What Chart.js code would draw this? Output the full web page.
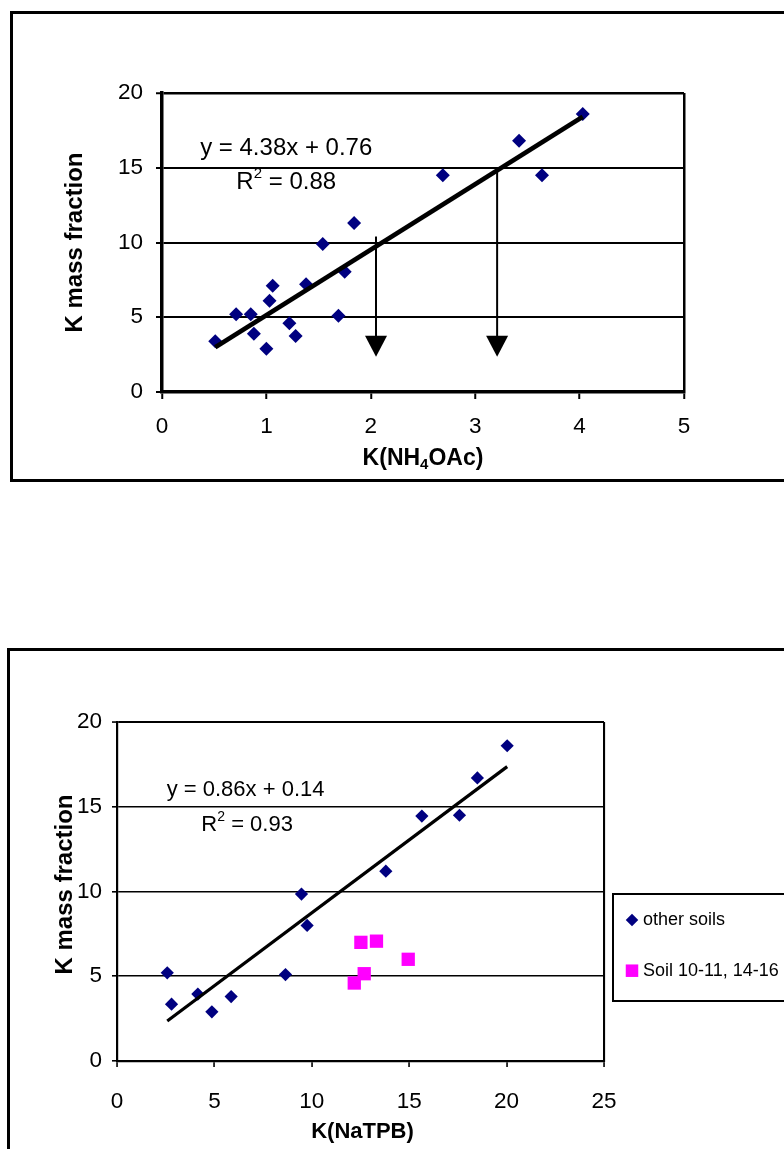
<!DOCTYPE html>
<html>
<head>
<meta charset="utf-8">
<title>K mass fraction</title>
<script src="https://cdn.jsdelivr.net/npm/chart.js@4.4.1/dist/chart.umd.min.js"></script>
<style>
  html, body { margin: 0; padding: 0; background: #fff; overflow: hidden; }
  body { width: 784px; height: 1149px; position: relative; }
  .frame { position: absolute; border: 3px solid #000; box-sizing: border-box; }
  #frameTop { left: 10px; top: 11px; width: 900px; height: 471px; }
  #frameBottom { left: 7px; top: 648px; width: 900px; height: 600px; }
  #legendBox { left: 612px; top: 893px; width: 300px; height: 109px; border-width: 2.5px; }
  canvas { position: absolute; left: 0; }
  #chartTop { top: 0; }
  #chartBottom { top: 640px; }
</style>
</head>
<body>
<div class="frame" id="frameTop"></div>
<div class="frame" id="frameBottom"></div>
<div class="frame" id="legendBox"></div>
<canvas id="chartTop" width="784" height="520"></canvas>
<canvas id="chartBottom" width="784" height="509"></canvas>
<script>
const NAVY = "#000080";
const MAGENTA = "#ff00ff";
const FONT = "'Liberation Sans', Arial, Helvetica, sans-serif";

// K(NH4OAc) against K mass fraction, all soils
const nh4oacX = [0.51, 0.71, 0.85, 0.88, 1.00, 1.03, 1.06, 1.22, 1.28, 1.38, 1.54, 1.69, 1.75, 1.84, 2.69, 3.42, 3.64, 4.03];
const nh4oacY = [3.4, 5.2, 5.2, 3.9, 2.9, 6.1, 7.1, 4.6, 3.75, 7.2, 9.9, 5.1, 8.05, 11.3, 14.5, 16.8, 14.5, 18.6];
const nh4oacFit = {slope: 4.38, intercept: 0.76, r2: "0.88"};

// read-off arrows from the regression line down to the x axis
const arrowX = [2.05, 3.21];
const arrowFrom = [10.4, 15.0];
const arrowTo = [2.35, 2.35];

// K(NaTPB) against K mass fraction
const natpbOtherX = [2.58, 2.80, 4.15, 4.87, 5.86, 8.65, 9.47, 9.76, 13.8, 15.65, 17.58, 18.5, 20.03];
const natpbOtherY = [5.2, 3.35, 3.95, 2.9, 3.8, 5.1, 9.85, 8.0, 11.2, 14.45, 14.5, 16.7, 18.6];
const natpbSoilX = [12.52, 13.32, 14.95, 12.69, 12.18];
const natpbSoilY = [7.0, 7.07, 6.0, 5.15, 4.6];
const natpbFit = {slope: 0.86, intercept: 0.14, r2: "0.93"};

const seriesNames = ["other soils", "Soil 10-11, 14-16"];

const topXRange = [0, 5, 1];
const bottomXRange = [0, 25, 5];
const yRange = [0, 20, 5];

function toPoints(xs, ys) {
    return xs.map((x, i) => ({x: x, y: ys[i]}));
}

function fitPoints(xs, fit) {
    const lo = Math.min(...xs);
    const hi = Math.max(...xs);
    return [lo, hi].map(x => ({x: x, y: fit.slope * x + fit.intercept}));
}

function fitText(fit) {
    return `y = ${fit.slope.toFixed(2)}x + ${fit.intercept.toFixed(2)}`;
}

// draws a row of text pieces (for sub/superscripts) centred on cx, cy
function drawRich(ctx, parts, cx, cy, angle) {
    ctx.save();
    ctx.translate(cx, cy);
    if (angle) ctx.rotate(angle);
    ctx.textBaseline = "middle";
    ctx.textAlign = "left";
    let total = 0;
    const widths = parts.map(p => {
        ctx.font = p.font;
        const w = ctx.measureText(p.text).width;
        total += w;
        return w;
    });
    let xx = -total / 2;
    parts.forEach((p, i) => {
        ctx.font = p.font;
        ctx.fillText(p.text, xx, p.dy || 0);
        xx += widths[i];
    });
    ctx.restore();
}

let arrowsPlugin = {
    id: "arrows",
    afterDatasetsDraw(chart, args, opts) {
        if (!opts.xs) return;
        const {ctx, scales: {x, y}} = chart;
        ctx.save();
        ctx.strokeStyle = "#000";
        ctx.fillStyle = "#000";
        ctx.lineWidth = opts.lineWidth;
        opts.xs.forEach((v, i) => {
            const px = x.getPixelForValue(v);
            const top = y.getPixelForValue(opts.from[i]);
            const tip = y.getPixelForValue(opts.to[i]);
            const base = tip - opts.headLength;
            ctx.beginPath();
            ctx.moveTo(px, top);
            ctx.lineTo(px, base + 1);
            ctx.stroke();
            ctx.beginPath();
            ctx.moveTo(px - opts.headWidth / 2, base);
            ctx.lineTo(px + opts.headWidth / 2, base);
            ctx.lineTo(px, tip);
            ctx.closePath();
            ctx.fill();
        });
        ctx.restore();
    }
};

let notesPlugin = {
    id: "notes",
    afterDraw(chart, args, opts) {
        const {ctx, chartArea: a, scales: {x, y}} = chart;
        ctx.save();
        ctx.fillStyle = "#000";
        // regression equation and R²
        const size = opts.size;
        const reg = `${size}px ${FONT}`;
        const sup = `${Math.round(size * 0.62)}px ${FONT}`;
        drawRich(ctx, [{text: opts.equation, font: reg}],
            x.getPixelForValue(opts.eqAt[0]), y.getPixelForValue(opts.eqAt[1]));
        drawRich(ctx, [
                {text: "R", font: reg},
                {text: "2", font: sup, dy: -size * 0.38},
                {text: " = " + opts.r2, font: reg}],
            x.getPixelForValue(opts.r2At[0]), y.getPixelForValue(opts.r2At[1]));
        // axis titles
        drawRich(ctx, opts.xTitle, (a.left + a.right) / 2 + (opts.xTitleDx || 0), a.bottom + opts.xTitleDy);
        drawRich(ctx, opts.yTitle, a.left - opts.yTitleDx, (a.top + a.bottom) / 2 + (opts.yTitleDy || 0), -Math.PI / 2);
        ctx.restore();
    }
};

let legendPlugin = {
    id: "sideLegend",
    afterDraw(chart, args, opts) {
        if (!opts.rows) return;
        const ctx = chart.ctx;
        const items = chart.data.datasets.filter(d => d.label);
        ctx.save();
        ctx.font = `${opts.size}px ${FONT}`;
        ctx.textBaseline = "middle";
        ctx.textAlign = "left";
        items.forEach((d, i) => {
            const cy = opts.rows[i];
            const cx = opts.markerX;
            ctx.fillStyle = d.backgroundColor;
            ctx.beginPath();
            if (d.pointStyle === "rectRot") {
                const r = opts.marker / 2;
                ctx.moveTo(cx, cy - r);
                ctx.lineTo(cx + r, cy);
                ctx.lineTo(cx, cy + r);
                ctx.lineTo(cx - r, cy);
                ctx.closePath();
            } else {
                const s = opts.marker;
                ctx.rect(cx - s / 2, cy - s / 2, s, s);
            }
            ctx.fill();
            ctx.fillStyle = "#000";
            ctx.fillText(d.label, opts.textX, cy);
        });
        ctx.restore();
    }
};

function buildScales(o) {
    return {
        x: {
            type: "linear",
            min: o.xRange[0],
            max: o.xRange[1],
            ticks: {stepSize: o.xRange[2], color: "#000", padding: o.xPad, font: {family: FONT, size: o.tickSize}},
            grid: {
                drawOnChartArea: true,
                color: c => (c.tick && c.tick.value === o.xRange[1]) ? "#000" : "rgba(0,0,0,0)",
                tickColor: "#000",
                lineWidth: o.gridWidth + 0.5,
                tickLength: o.tickLength,
                tickWidth: o.gridWidth
            },
            border: {display: true, color: "#000", width: o.axisWidth},
            afterFit: s => { s.height = o.xHeight; }
        },
        y: {
            type: "linear",
            min: yRange[0],
            max: yRange[1],
            ticks: {stepSize: yRange[2], color: "#000", padding: o.yPad, font: {family: FONT, size: o.tickSize}},
            grid: {
                color: "#000",
                lineWidth: c => (c.tick && c.tick.value === yRange[1]) ? o.gridWidth + 0.5 : o.gridWidth,
                tickLength: o.tickLength - 1,
                tickWidth: o.gridWidth
            },
            border: {display: true, color: "#000", width: o.axisWidth},
            afterFit: s => { s.width = o.yWidth; }
        }
    };
}

new Chart(document.getElementById("chartTop"), {
    type: "scatter",
    data: {
        datasets: [
            {
                type: "line",
                data: fitPoints(nh4oacX, nh4oacFit),
                borderColor: "#000",
                borderWidth: 4.5,
                pointRadius: 0,
                order: 0
            },
            {
                data: toPoints(nh4oacX, nh4oacY),
                pointStyle: "rectRot",
                pointRadius: 7,
                backgroundColor: NAVY,
                borderColor: NAVY,
                borderWidth: 0,
                order: 1
            }
        ]
    },
    options: {
        responsive: false,
        animation: false,
        events: [],
        layout: {padding: {top: 93, right: 100, left: 0, bottom: 0}},
        plugins: {
            legend: {display: false},
            tooltip: {enabled: false},
            arrows: {xs: arrowX, from: arrowFrom, to: arrowTo, lineWidth: 2, headWidth: 22, headLength: 21},
            notes: {
                size: 24,
                equation: fitText(nh4oacFit),
                r2: nh4oacFit.r2,
                eqAt: [1.19, 16.3],
                r2At: [1.19, 14.0],
                xTitle: [
                    {text: "K(NH", font: `bold 23px ${FONT}`},
                    {text: "4", font: `bold 15px ${FONT}`, dy: 6},
                    {text: "OAc)", font: `bold 23px ${FONT}`}
                ],
                xTitleDy: 67,
                yTitle: [{text: "K mass fraction", font: `bold 24px ${FONT}`}],
                yTitleDx: 87
            }
        },
        scales: buildScales({
            xRange: topXRange, tickSize: 22.5, xPad: 14, yPad: 13,
            gridWidth: 2, axisWidth: 3.5, tickLength: 7, xHeight: 128, yWidth: 162
        })
    },
    plugins: [arrowsPlugin, notesPlugin]
});

new Chart(document.getElementById("chartBottom"), {
    type: "scatter",
    data: {
        datasets: [
            {
                type: "line",
                data: fitPoints(natpbOtherX, natpbFit),
                borderColor: "#000",
                borderWidth: 3.2,
                pointRadius: 0,
                order: 0
            },
            {
                label: seriesNames[0],
                data: toPoints(natpbOtherX, natpbOtherY),
                pointStyle: "rectRot",
                pointRadius: 6.6,
                backgroundColor: NAVY,
                borderColor: NAVY,
                borderWidth: 0,
                order: 1
            },
            {
                label: seriesNames[1],
                data: toPoints(natpbSoilX, natpbSoilY),
                pointStyle: "rect",
                pointRadius: 9.4,
                backgroundColor: MAGENTA,
                borderColor: MAGENTA,
                borderWidth: 0,
                order: 2
            }
        ]
    },
    options: {
        responsive: false,
        animation: false,
        events: [],
        layout: {padding: {top: 82, right: 180, left: 0, bottom: 0}},
        plugins: {
            legend: {display: false},
            tooltip: {enabled: false},
            notes: {
                size: 22,
                equation: fitText(natpbFit),
                r2: natpbFit.r2,
                eqAt: [6.6, 16.0],
                r2At: [6.68, 13.9],
                xTitle: [{text: "K(NaTPB)", font: `bold 22px ${FONT}`}],
                xTitleDy: 71,
                xTitleDx: 2,
                yTitle: [{text: "K mass fraction", font: `bold 24px ${FONT}`}],
                yTitleDx: 52,
                yTitleDy: -7
            },
            sideLegend: {size: 18, rows: [280, 330.7], markerX: 632, marker: 12.5, textX: 643}
        },
        scales: buildScales({
            xRange: bottomXRange, tickSize: 22.5, xPad: 21, yPad: 10,
            gridWidth: 1.6, axisWidth: 2.2, tickLength: 6, xHeight: 88, yWidth: 117
        })
    },
    plugins: [notesPlugin, legendPlugin]
});
</script>
</body>
</html>
